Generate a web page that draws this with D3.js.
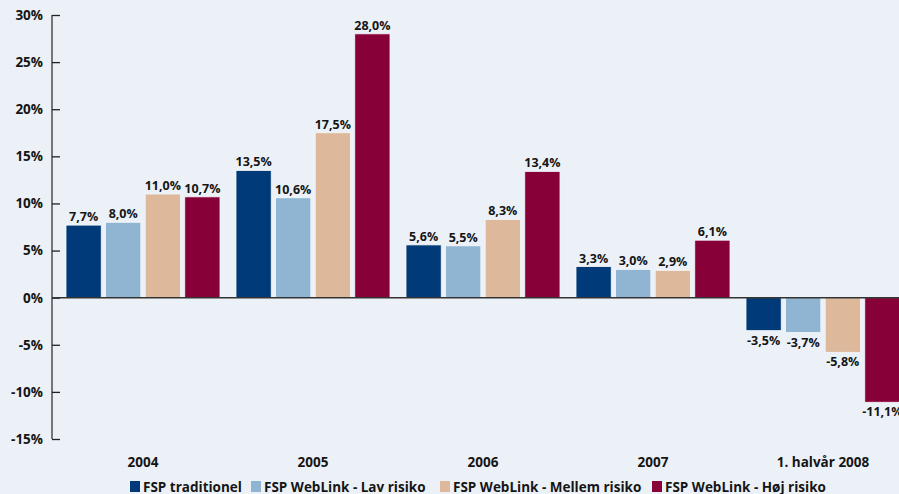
<!DOCTYPE html>
<html><head><meta charset="utf-8">
<script src="https://cdn.jsdelivr.net/npm/d3@7/dist/d3.min.js"></script>
<style>
html,body{margin:0;padding:0;background:#ECF1F8;}
svg{display:block;}
text{font-family:"Open Sans",sans-serif;font-weight:700;fill:#151515;}
</style></head>
<body><svg id="c" width="899" height="494"></svg>
<script>
const categories = ["2004","2005","2006","2007","1. halvår 2008"];
const seriesNames = ["FSP traditionel","FSP WebLink - Lav risiko","FSP WebLink - Mellem risiko","FSP WebLink - Høj risiko"];
const traditionel = [7.7, 13.5, 5.6, 3.3, -3.5];
const lavRisiko = [8.0, 10.6, 5.5, 3.0, -3.7];
const mellemRisiko = [11.0, 17.5, 8.3, 2.9, -5.8];
const hojRisiko = [10.7, 28.0, 13.4, 6.1, -11.1];
const yTicks = [-15,-10,-5,0,5,10,15,20,25,30];
const colors = ["#003A78","#8FB5D2","#DDB89A","#870038"];

const seriesValues = [traditionel, lavRisiko, mellemRisiko, hojRisiko];
const fmt = v => v.toFixed(1).replace(".", ",") + "%";

const svg = d3.select("#c");
const y = d3.scaleLinear().domain([-15,30]).range([439,15]);
const x0 = d3.scaleBand().domain(categories).range([66, 66+170*5]).paddingInner(0).paddingOuter(0);
const x1 = d3.scaleBand().domain(d3.range(4)).range([0,154]).paddingInner(0.11).paddingOuter(0);

// y axis
const axisX = 52;
const ax = svg.append("g").attr("transform", `translate(${axisX},0)`)
  .call(d3.axisRight(y).tickValues(yTicks).tickSize(8).tickFormat(""));
ax.select(".domain").attr("stroke","#333").attr("stroke-width",1.3).attr("d", `M0,${y(30)}V${y(-15)}`);
ax.selectAll(".tick line").attr("stroke","#222").attr("stroke-width",1.3);
svg.append("g").selectAll("text").data(yTicks).join("text")
  .attr("x", 43).attr("y", d => y(d)).attr("dy","0.36em")
  .attr("text-anchor","end").attr("font-size", 13.5).text(d => d + "%");

// bars
const groups = svg.append("g").selectAll("g").data(categories).join("g")
  .attr("transform", c => `translate(${x0(c)},0)`);
groups.each(function(c, ci){
  const g = d3.select(this);
  const data = seriesValues.map((s, si) => ({si, v: s[ci]}));
  g.selectAll("rect").data(data).join("rect")
    .attr("x", d => x1(d.si)).attr("width", x1.bandwidth())
    .attr("y", d => y(Math.max(0,d.v))).attr("height", d => Math.abs(y(d.v)-y(0)))
    .attr("fill", d => colors[d.si]).attr("stroke","#F4F7FB").attr("stroke-width",0.8);
  g.selectAll("text").data(data).join("text")
    .attr("x", d => x1(d.si) + x1.bandwidth()/2)
    .attr("y", d => d.v >= 0 ? y(d.v) - 4 : y(d.v) + 14)
    .attr("text-anchor","middle").attr("font-size", 12.5).text(d => fmt(d.v));
});

// zero line
svg.append("line").attr("x1", axisX).attr("x2", 899).attr("y1", y(0)).attr("y2", y(0))
  .attr("stroke","#333").attr("stroke-width",1.5);

// category labels
svg.append("g").selectAll("text").data(categories).join("text")
  .attr("x", c => x0(c) + 77).attr("y", 467)
  .attr("text-anchor","middle").attr("font-size", 13.5).text(c => c);

// legend
const legendX = [130, 251, 440, 652];
const lg = svg.append("g").selectAll("g").data(seriesNames).join("g")
  .attr("transform", (d,i) => `translate(${legendX[i]},481)`);
lg.append("rect").attr("width",10).attr("height",11).attr("fill",(d,i)=>colors[i]);
lg.append("text").attr("x",13).attr("y",10.5).attr("font-size",13.5).text(d => d);
</script></body></html>
